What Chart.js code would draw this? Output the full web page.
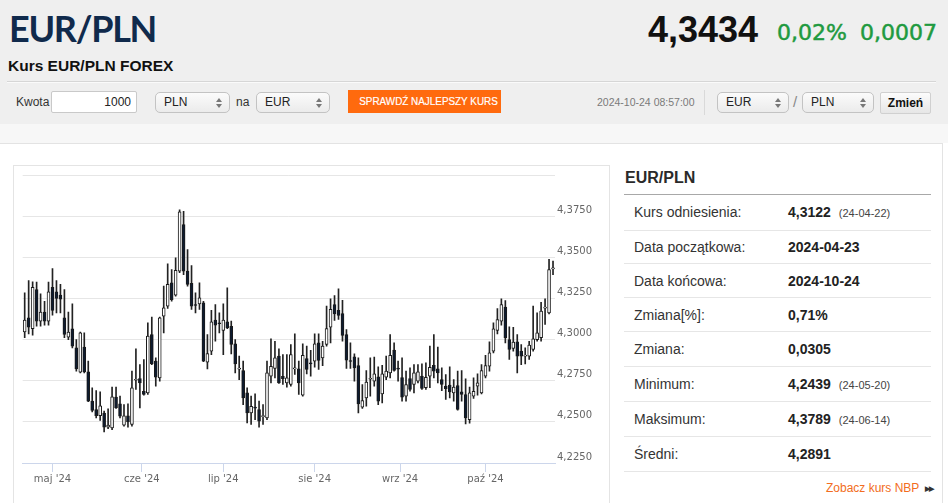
<!DOCTYPE html>
<html><head><meta charset="utf-8">
<script src="https://cdn.jsdelivr.net/npm/chart.js@4.4.1/dist/chart.umd.min.js"></script>
<style>
*{box-sizing:border-box;margin:0;padding:0}
html,body{width:948px;height:503px;overflow:hidden;background:#fff;font-family:Arial,"Liberation Sans",sans-serif;color:#333}
.a{position:absolute;white-space:nowrap}
#hdr{left:0;top:0;width:948px;height:124px;background:#efefef}
#band{left:0;top:124px;width:948px;height:19px;background:#f7f7f7}
#panel{left:0;top:143px;width:943px;height:380px;background:#fff;border-top:1px solid #e3e3e3;border-right:1px solid #e3e3e3}
#title{left:9px;top:9.5px;font-family:Lato,"Open Sans",sans-serif;font-weight:700;font-size:36px;line-height:36px;letter-spacing:-1.3px;color:#102a4c}
#sub{left:8px;top:57.5px;font-weight:700;font-size:15.5px;line-height:16px;color:#111}
#price{left:648px;top:11.5px;font-weight:700;font-size:36px;line-height:36px;color:#111}
.grn{top:21.5px;font-family:"DejaVu Sans",sans-serif;font-size:22px;line-height:22px;color:#1f9a40;-webkit-text-stroke:0.5px #1f9a40}
#hline{left:7px;top:81px;width:929px;height:2px;border-top:1px solid #d6d6d6;border-bottom:1px solid #fafafa}
.lbl{font-size:12px;line-height:14px;color:#333;top:95px}
.inp{left:51px;top:91px;width:86px;height:22px;border:1px solid #c9c9c9;border-radius:2px;background:#fff;font-size:12px;line-height:20px;text-align:right;padding-right:5px;color:#222}
.sel{top:92px;height:21px;border:1px solid #c3c3c3;border-radius:5px;background:linear-gradient(#fbfbfb,#ebebeb);font-size:12px;line-height:19px;padding-left:8px;color:#222}
.sel svg{position:absolute;right:7px;top:5px}
#btn{left:348px;top:90px;width:153px;height:23px;background:#ff6a0e;color:#fff;font-size:11.5px;line-height:23px;text-align:center;overflow:hidden}
#btn span{display:inline-block;transform:scaleX(0.86);transform-origin:center;-webkit-text-stroke:0.2px #fff}
#ts{left:597px;top:96px;font-size:10.5px;line-height:12px;color:#7a7a7a}
#vsep{left:704px;top:90px;width:1px;height:25px;background:#d9d9d9}
#zm{left:880px;top:92px;width:51px;height:22px;border:1px solid #d0d0d0;border-radius:2px;background:linear-gradient(#fcfcfc,#e6e6e6);font-weight:700;font-size:12px;line-height:20px;text-align:center;color:#111}
#cbox{left:13px;top:165px;width:597px;height:360px;border:1px solid #e4e4e4;background:#fff}
#cwrap{left:14px;top:166px;width:595px;height:337px}
#th{left:625px;top:168px;font-weight:700;font-size:16px;line-height:20px;color:#2a2a2a}
#tline{left:624px;top:193.5px;width:307px;height:1px;background:#a8a8a8}
.row{left:624px;width:307px;border-bottom:1px solid #e6e6e6}
.row .k{position:absolute;left:10px;top:50%;transform:translateY(-50%);font-size:14px;color:#333}
.row .v{position:absolute;left:164px;top:50%;transform:translateY(-50%);font-size:14px;font-weight:700;color:#222}
.row .v small{font-weight:400;font-size:11px;color:#444;margin-left:8px}
#nbp{left:826px;top:481px;font-size:12px;line-height:14px;color:#f26d21}
#nbp b{font-size:7px;color:#333;letter-spacing:-1px;margin-left:6px;vertical-align:1px}
</style></head>
<body>
<div class="a" id="hdr"></div>
<div class="a" id="band"></div>
<div class="a" id="panel"></div>
<div class="a" id="title">EUR/PLN</div>
<div class="a" id="sub">Kurs EUR/PLN FOREX</div>
<div class="a" id="price">4,3434</div>
<div class="a grn" style="left:777px">0,02%</div>
<div class="a grn" style="left:860px">0,0007</div>
<div class="a" id="hline"></div>
<div class="a lbl" style="left:16px">Kwota</div>
<div class="a inp">1000</div>
<div class="a sel" style="left:155px;width:75px">PLN<svg width="6" height="10" viewBox="0 0 6 10"><path d="M3 0L6 4H0z M3 10L0 6H6z" fill="#777"/></svg></div>
<div class="a lbl" style="left:236px">na</div>
<div class="a sel" style="left:256px;width:74px">EUR<svg width="6" height="10" viewBox="0 0 6 10"><path d="M3 0L6 4H0z M3 10L0 6H6z" fill="#777"/></svg></div>
<div class="a" id="btn"><span>SPRAWDŹ NAJLEPSZY KURS</span></div>
<div class="a" id="ts">2024-10-24 08:57:00</div>
<div class="a" id="vsep"></div>
<div class="a sel" style="left:717px;width:72px">EUR<svg width="6" height="10" viewBox="0 0 6 10"><path d="M3 0L6 4H0z M3 10L0 6H6z" fill="#777"/></svg></div>
<div class="a" style="left:793px;top:93px;font-size:15px;line-height:18px;color:#888">/</div>
<div class="a sel" style="left:802px;width:72px">PLN<svg width="6" height="10" viewBox="0 0 6 10"><path d="M3 0L6 4H0z M3 10L0 6H6z" fill="#777"/></svg></div>
<div class="a" id="zm">Zmień</div>

<div class="a" id="cbox"></div>
<div class="a" id="cwrap"><canvas id="c"></canvas></div>

<div class="a" id="th">EUR/PLN</div>
<div class="a" id="tline"></div>
<div id="rows"></div>
<div class="a" id="nbp">Zobacz kurs NBP<b>▶▶</b></div>

<script>
// ---- chart data ----
const dates = [
"2024-04-22","2024-04-23","2024-04-24","2024-04-25","2024-04-26","2024-04-29","2024-04-30",
"2024-05-01","2024-05-02","2024-05-03","2024-05-06","2024-05-07","2024-05-08","2024-05-09","2024-05-10",
"2024-05-13","2024-05-14","2024-05-15","2024-05-16","2024-05-17","2024-05-20","2024-05-21","2024-05-22",
"2024-05-23","2024-05-24","2024-05-27","2024-05-28","2024-05-29","2024-05-30","2024-05-31",
"2024-06-03","2024-06-04","2024-06-05","2024-06-06","2024-06-07","2024-06-10","2024-06-11","2024-06-12",
"2024-06-13","2024-06-14","2024-06-17","2024-06-18","2024-06-19","2024-06-20","2024-06-21","2024-06-24",
"2024-06-25","2024-06-26","2024-06-27","2024-06-28",
"2024-07-01","2024-07-02","2024-07-03","2024-07-04","2024-07-05","2024-07-08","2024-07-09","2024-07-10",
"2024-07-11","2024-07-12","2024-07-15","2024-07-16","2024-07-17","2024-07-18","2024-07-19","2024-07-22",
"2024-07-23","2024-07-24","2024-07-25","2024-07-26","2024-07-29","2024-07-30","2024-07-31",
"2024-08-01","2024-08-02","2024-08-05","2024-08-06","2024-08-07","2024-08-08","2024-08-09","2024-08-12",
"2024-08-13","2024-08-14","2024-08-15","2024-08-16","2024-08-19","2024-08-20","2024-08-21","2024-08-22",
"2024-08-23","2024-08-26","2024-08-27","2024-08-28","2024-08-29","2024-08-30",
"2024-09-02","2024-09-03","2024-09-04","2024-09-05","2024-09-06","2024-09-09","2024-09-10","2024-09-11",
"2024-09-12","2024-09-13","2024-09-16","2024-09-17","2024-09-18","2024-09-19","2024-09-20","2024-09-23",
"2024-09-24","2024-09-25","2024-09-26","2024-09-27","2024-09-30",
"2024-10-01","2024-10-02","2024-10-03","2024-10-04","2024-10-07","2024-10-08","2024-10-09","2024-10-10",
"2024-10-11","2024-10-14","2024-10-15","2024-10-16","2024-10-17","2024-10-18","2024-10-21","2024-10-22",
"2024-10-23","2024-10-24"];

const open = [
4.3047,4.3132,4.3067,4.3304,4.3112,4.3167,4.3112,4.3318,4.3290,4.3270,
4.3132,4.3015,4.3065,4.2950,4.2802,4.2954,4.2804,4.2626,4.2575,4.2538,
4.2553,4.2468,4.2463,4.2650,4.2609,4.2480,4.2536,4.2484,4.2753,4.2763,
4.2686,4.2676,4.3031,4.2869,4.2767,4.3142,4.3203,4.3345,4.3270,4.3416,
4.3699,4.3416,4.3341,4.3213,4.3217,4.3223,4.2863,4.2930,4.3118,4.3098,
4.3055,4.3108,4.3081,4.2974,4.2820,4.2812,4.2676,4.2555,4.2585,4.2575,
4.2532,4.2524,4.2778,4.2824,4.2899,4.2776,4.2737,4.2727,4.2822,4.2822,
4.2662,4.2885,4.2855,4.2869,4.2980,4.2889,4.2970,4.3075,4.3213,4.3177,
4.3158,4.3031,4.2869,4.2895,4.2842,4.2589,4.2646,4.2759,4.2747,4.2774,
4.2670,4.2771,4.2798,4.2936,4.2822,4.2769,4.2656,4.2763,4.2727,4.2747,
4.2778,4.2707,4.2778,4.2844,4.2822,4.2757,4.2717,4.2723,4.2676,4.2721,
4.2682,4.2666,4.2514,4.2656,4.2717,4.2676,4.2778,4.2838,4.2930,4.3055,
4.3112,4.3197,4.3000,4.2946,4.2986,4.2930,4.2899,4.2899,4.2940,4.3000,
4.3011,4.3191,4.3162,4.3430];
const high = [
4.3284,4.3359,4.3351,4.3349,4.3278,4.3233,4.3349,4.3432,4.3359,4.3335,
4.3304,4.3167,4.3217,4.3000,4.3045,4.3041,4.2869,4.2707,4.2690,4.2682,
4.2565,4.2579,4.2711,4.2711,4.2656,4.2605,4.2609,4.2808,4.2944,4.2848,
4.2879,4.3102,4.3136,4.2889,4.3136,4.3325,4.3460,4.3426,4.3497,4.3789,
4.3780,4.3547,4.3450,4.3284,4.3345,4.3233,4.3031,4.3177,4.3213,4.3162,
4.3217,4.3314,4.3112,4.3000,4.2899,4.2869,4.2707,4.2656,4.2670,4.2626,
4.2605,4.2869,4.3004,4.2990,4.2944,4.2909,4.2909,4.2970,4.3035,4.2869,
4.2974,4.2960,4.2934,4.3035,4.3035,4.2990,4.3203,4.3248,4.3268,4.3308,
4.3239,4.3061,4.2980,4.2913,4.2889,4.2727,4.2812,4.2889,4.2893,4.2834,
4.2844,4.2899,4.3031,4.2980,4.2869,4.2889,4.2808,4.2828,4.2848,4.2848,
4.2852,4.2859,4.2960,4.3031,4.2954,4.2828,4.2788,4.2834,4.2757,4.2808,
4.2812,4.2761,4.2711,4.2767,4.2792,4.2848,4.2905,4.2986,4.3102,4.3189,
4.3248,4.3237,4.3077,4.3075,4.3031,4.2970,4.2950,4.2990,4.3203,4.3162,
4.3227,4.3248,4.3487,4.3477];
const low = [
4.3011,4.3035,4.3027,4.3081,4.3081,4.3087,4.3087,4.3148,4.3162,4.3162,
4.3011,4.3000,4.2950,4.2808,4.2798,4.2798,4.2622,4.2561,4.2524,4.2508,
4.2439,4.2459,4.2453,4.2581,4.2524,4.2474,4.2468,4.2474,4.2697,4.2585,
4.2662,4.2666,4.2848,4.2717,4.2747,4.3041,4.3189,4.3233,4.3264,4.3406,
4.3395,4.3325,4.3183,4.3162,4.3183,4.2865,4.2822,4.2909,4.2990,4.3041,
4.2909,4.3067,4.2913,4.2798,4.2757,4.2605,4.2494,4.2484,4.2514,4.2468,
4.2484,4.2514,4.2737,4.2767,4.2733,4.2727,4.2711,4.2717,4.2788,4.2666,
4.2656,4.2792,4.2778,4.2832,4.2818,4.2842,4.2960,4.2980,4.3116,4.3122,
4.2990,4.2824,4.2824,4.2747,4.2555,4.2581,4.2595,4.2656,4.2717,4.2605,
4.2615,4.2757,4.2767,4.2808,4.2747,4.2626,4.2626,4.2686,4.2676,4.2737,
4.2697,4.2697,4.2707,4.2767,4.2737,4.2690,4.2636,4.2646,4.2626,4.2571,
4.2626,4.2488,4.2492,4.2642,4.2662,4.2670,4.2767,4.2808,4.2919,4.3035,
4.3087,4.2980,4.2879,4.2930,4.2798,4.2848,4.2852,4.2879,4.2930,4.2990,
4.2990,4.3092,4.3156,4.3395];
const close = [
4.3118,4.3075,4.3318,4.3112,4.3167,4.3112,4.3290,4.3177,4.3250,4.3246,
4.3031,4.3045,4.2960,4.2822,4.3041,4.2804,4.2626,4.2569,4.2538,4.2597,
4.2468,4.2480,4.2652,4.2585,4.2534,4.2536,4.2500,4.2707,4.2757,4.2737,
4.2666,4.3021,4.2852,4.2771,4.3132,4.3193,4.3335,4.3243,4.3420,4.3776,
4.3416,4.3335,4.3203,4.3207,4.3254,4.2869,4.2915,4.3108,4.3087,4.3096,
4.3118,4.3071,4.2970,4.2852,4.2822,4.2646,4.2555,4.2595,4.2583,4.2504,
4.2534,4.2798,4.2838,4.2889,4.2737,4.2763,4.2767,4.2909,4.2824,4.2737,
4.2905,4.2818,4.2852,4.2974,4.2873,4.2960,4.3067,4.3183,4.3156,4.3146,
4.3025,4.2875,4.2867,4.2828,4.2609,4.2630,4.2741,4.2761,4.2792,4.2626,
4.2792,4.2808,4.2905,4.2812,4.2820,4.2650,4.2727,4.2697,4.2798,4.2804,
4.2703,4.2771,4.2832,4.2808,4.2798,4.2727,4.2701,4.2682,4.2711,4.2575,
4.2666,4.2524,4.2676,4.2686,4.2737,4.2812,4.2842,4.2919,4.3065,4.3122,
4.3213,4.3011,4.2940,4.2984,4.2899,4.2899,4.2901,4.2966,4.3004,4.3041,
4.3173,4.3195,4.3426,4.3434];

const monthTickPos = [7, 29.5, 50, 73, 94.5, 116];
const monthTickLabels = ["maj '24","cze '24","lip '24","sie '24","wrz '24","paź '24"];
const yTickValues = [4.225, 4.25, 4.275, 4.30, 4.325, 4.35, 4.375, 4.40];
const yTickLabels = ["4,2250","4,2500","4,2750","4,3000","4,3250","4,3500","4,3750",""];

// ---- table ----
const statLabels = ["Kurs odniesienia:","Data początkowa:","Data końcowa:","Zmiana[%]:","Zmiana:","Minimum:","Maksimum:","Średni:"];
const statValues = ["4,3122","2024-04-23","2024-10-24","0,71%","0,0305","4,2439","4,3789","4,2891"];
const statDates  = ["(24-04-22)","","","","","(24-05-20)","(24-06-14)",""];
const rowBottoms = [231, 264, 298, 332, 367, 402, 437, 472];
(function(){
  let html = '', top = 194.5;
  statLabels.forEach((k,i)=>{
    const h = rowBottoms[i] - top;
    html += `<div class="a row" style="top:${top}px;height:${h}px"><span class="k">${k}</span><span class="v">${statValues[i]}${statDates[i]?'<small>'+statDates[i]+'</small>':''}</span></div>`;
    top = rowBottoms[i];
  });
  document.getElementById('rows').innerHTML = html;
})();

// ---- chart ----
const wickData = dates.map((d,i)=>({x:i, y:[low[i], high[i]]}));
const bodyData = dates.map((d,i)=>({x:i, y:[open[i], close[i]]}));
const bodyColors = dates.map((d,i)=> close[i] >= open[i] ? '#ffffff' : '#0d1b30');

new Chart(document.getElementById('c'), {
  type: 'bar',
  data: {
    labels: dates,
    datasets: [
      {label:'body', data: bodyData, backgroundColor: bodyColors, borderColor:'#1a1a1a', borderWidth:1,
       borderSkipped:false, barThickness:3, minBarLength:1, grouped:false, order:1},
      {label:'wick', data: wickData, backgroundColor:'#222222', borderWidth:0,
       barThickness:1, grouped:false, order:2}
    ]
  },
  options: {
    animation:false, responsive:true, maintainAspectRatio:false,
    layout:{padding:{left:8.7, top:9, right:0, bottom:0}},
    plugins:{legend:{display:false}, tooltip:{enabled:false}},
    scales:{
      x:{type:'linear', min:-0.5, max:133.5, offset:false,
        afterBuildTicks: s => { s.ticks = monthTickPos.map(v=>({value:v})); },
        afterFit: s => { s.height = 40; },
        ticks:{autoSkip:false, maxRotation:0, color:'#666', font:{family:'DejaVu Sans', size:10}, padding:1,
               callback:(v,i)=>monthTickLabels[i]},
        grid:{offset:false, drawOnChartArea:false, drawTicks:true, tickLength:9, color:'#ccd6eb'},
        border:{display:true, color:'#ccd6eb'}
      },
      y:{position:'right', min:4.225, max:4.40,
        afterBuildTicks: s => { s.ticks = yTickValues.map(v=>({value:v})); },
        afterFit: s => { s.width = 54; },
        ticks:{color:'#666', font:{family:'DejaVu Sans', size:10}, padding:2, labelOffset:-6, crossAlign:'near',
               callback:(v,i)=>yTickLabels[i]},
        grid:{drawTicks:false, color: c => (c.index === 0 ? 'rgba(0,0,0,0)' : '#e6e6e6')},
        border:{display:false}
      }
    }
  }
});
</script>
</body></html>
